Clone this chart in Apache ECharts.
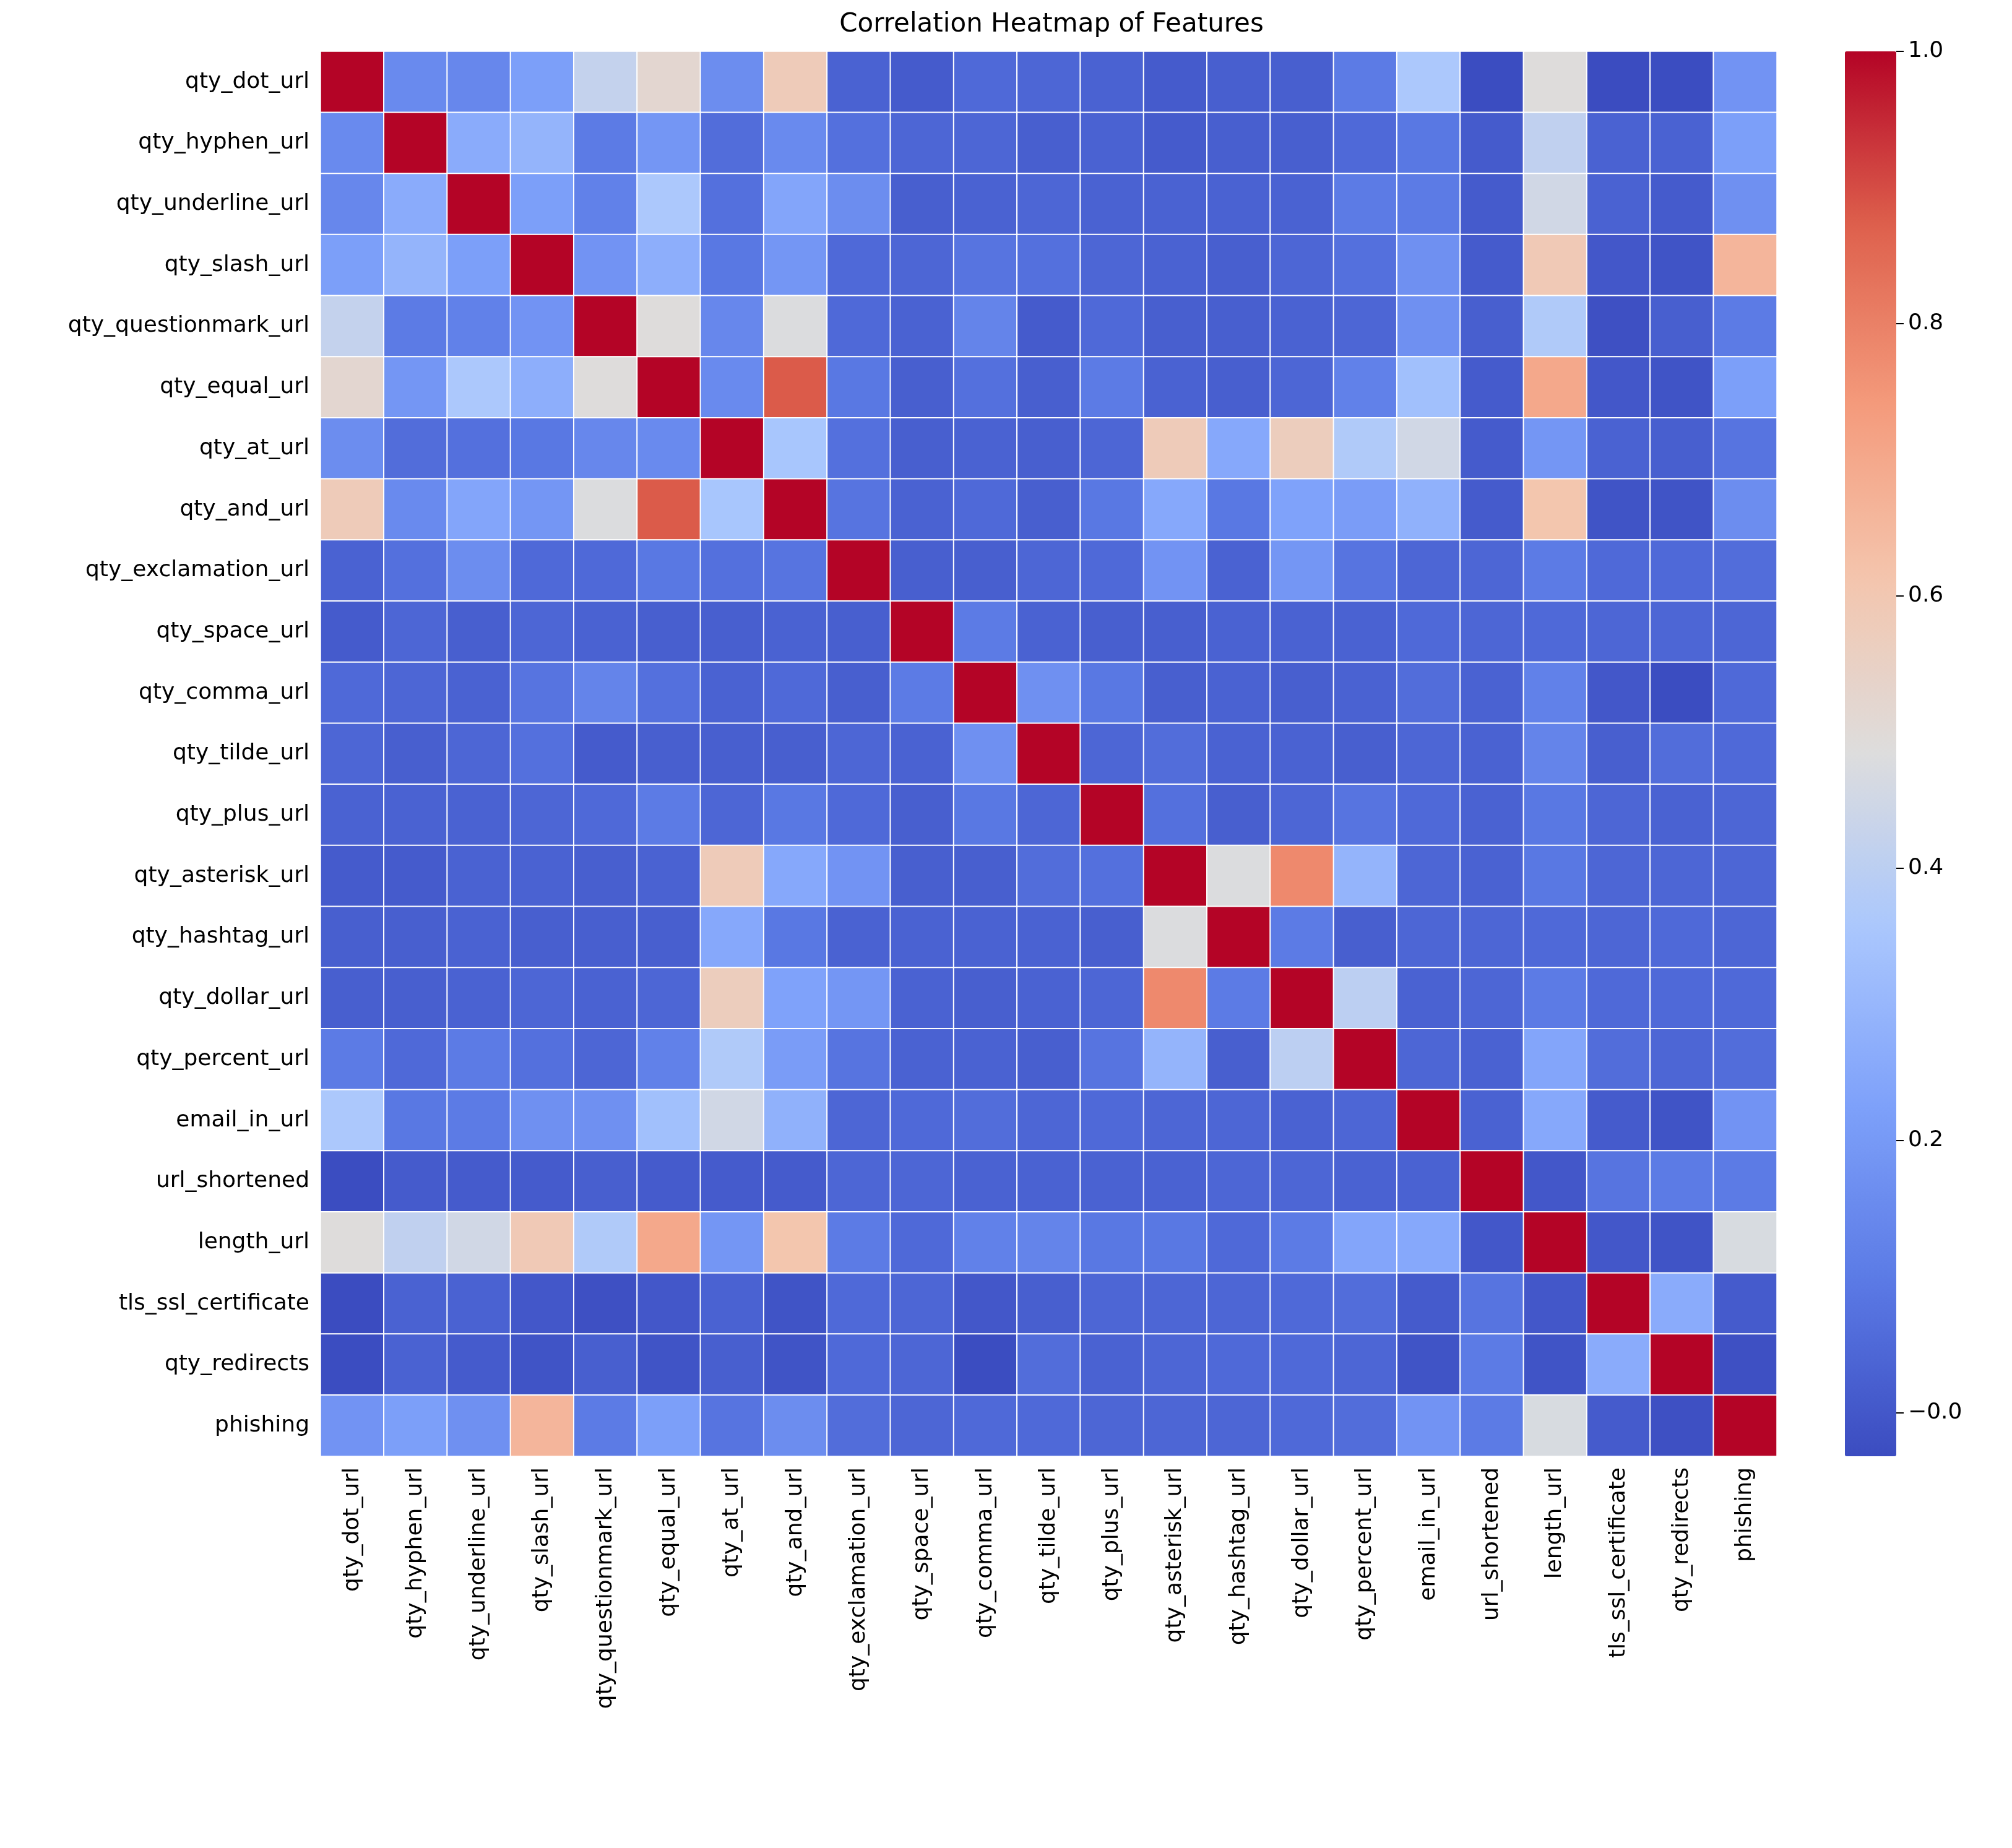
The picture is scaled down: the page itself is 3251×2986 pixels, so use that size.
<!DOCTYPE html>
<html>
<head>
<meta charset="utf-8">
<script src="https://cdn.jsdelivr.net/npm/echarts@6/dist/echarts.min.js"></script>
<style>html,body{margin:0;background:#fff}#chart{width:3251px;height:2986px}</style>
</head>
<body>
<div id="chart"></div>
<script>
const features = ["qty_dot_url", "qty_hyphen_url", "qty_underline_url", "qty_slash_url", "qty_questionmark_url",
  "qty_equal_url", "qty_at_url", "qty_and_url", "qty_exclamation_url", "qty_space_url", "qty_comma_url",
  "qty_tilde_url", "qty_plus_url", "qty_asterisk_url", "qty_hashtag_url", "qty_dollar_url", "qty_percent_url",
  "email_in_url", "url_shortened", "length_url", "tls_ssl_certificate", "qty_redirects", "phishing"];

// upper triangle of the correlation matrix, row i starts at column i
const upper = [
  [1, 0.15, 0.14, 0.22, 0.42, 0.52, 0.16, 0.58, 0.03, 0.01, 0.05, 0.04, 0.03, 0.01, 0.02, 0.02, 0.10, 0.36, -0.03, 0.49, -0.04, -0.03, 0.18],
  [1, 0.26, 0.29, 0.10, 0.19, 0.06, 0.15, 0.07, 0.04, 0.04, 0.02, 0.03, 0.01, 0.02, 0.02, 0.05, 0.09, 0.01, 0.41, 0.03, 0.03, 0.22],
  [1, 0.22, 0.12, 0.36, 0.07, 0.24, 0.16, 0.02, 0.03, 0.04, 0.03, 0.03, 0.03, 0.03, 0.10, 0.10, 0.01, 0.45, 0.03, 0.01, 0.17],
  [1, 0.18, 0.27, 0.09, 0.19, 0.05, 0.04, 0.08, 0.07, 0.04, 0.03, 0.02, 0.04, 0.07, 0.17, 0.01, 0.59, 0.00, -0.01, 0.66],
  [1, 0.49, 0.14, 0.48, 0.05, 0.03, 0.13, 0.01, 0.05, 0.02, 0.02, 0.03, 0.04, 0.17, 0.02, 0.37, -0.02, 0.02, 0.10],
  [1, 0.15, 0.88, 0.09, 0.02, 0.07, 0.02, 0.10, 0.03, 0.02, 0.04, 0.12, 0.33, 0.01, 0.70, 0.00, -0.01, 0.22],
  [1, 0.35, 0.07, 0.02, 0.03, 0.02, 0.04, 0.58, 0.25, 0.57, 0.37, 0.45, 0.01, 0.19, 0.03, 0.02, 0.08],
  [1, 0.08, 0.03, 0.05, 0.02, 0.09, 0.25, 0.09, 0.23, 0.21, 0.28, 0.01, 0.61, -0.01, -0.01, 0.16],
  [1, 0.02, 0.02, 0.04, 0.05, 0.18, 0.03, 0.19, 0.08, 0.04, 0.04, 0.10, 0.05, 0.05, 0.06],
  [1, 0.10, 0.03, 0.02, 0.02, 0.03, 0.03, 0.03, 0.05, 0.04, 0.05, 0.04, 0.04, 0.04],
  [1, 0.17, 0.09, 0.02, 0.03, 0.02, 0.03, 0.06, 0.03, 0.12, 0.00, -0.03, 0.05],
  [1, 0.04, 0.06, 0.03, 0.03, 0.02, 0.04, 0.03, 0.13, 0.02, 0.06, 0.05],
  [1, 0.07, 0.02, 0.04, 0.08, 0.05, 0.03, 0.09, 0.04, 0.03, 0.04],
  [1, 0.48, 0.78, 0.29, 0.04, 0.03, 0.09, 0.04, 0.04, 0.04],
  [1, 0.10, 0.02, 0.04, 0.04, 0.05, 0.04, 0.05, 0.04],
  [1, 0.40, 0.03, 0.04, 0.10, 0.05, 0.05, 0.05],
  [1, 0.04, 0.03, 0.24, 0.06, 0.04, 0.06],
  [1, 0.03, 0.25, 0.01, -0.01, 0.18],
  [1, 0.00, 0.08, 0.10, 0.10],
  [1, 0.00, -0.01, 0.47],
  [1, 0.26, 0.01],
  [1, -0.02],
  [1]
];
const colorTicks = [0, 0.2, 0.4, 0.6, 0.8, 1.0];
const vMin = -0.032, vMax = 1;

const cells = [];
upper.forEach((row, i) => row.forEach((v, k) => {
  const j = i + k;
  cells.push([j, i, v]);
  if (j !== i) cells.push([i, j, v]);
}));

const font = "DejaVu Sans";
const chart = echarts.init(document.getElementById("chart"));
chart.setOption({
  textStyle: { fontFamily: font },
  title: { text: "Correlation Heatmap of Features", left: 1694, top: 14, textAlign: "center",
    textStyle: { fontSize: 42, fontWeight: "normal", color: "#000", fontFamily: font } },
  grid: [
    { left: 518, right: 380, top: 83, height: 2270 },
    { left: 3064, width: 1, top: 83, height: 2270 }
  ],
  xAxis: [
    { type: "category", data: features, gridIndex: 0, position: "bottom",
      axisLine: { show: false }, axisTick: { length: 12, lineStyle: { color: "#000", width: 2 }, alignWithLabel: true },
      axisLabel: { rotate: 90, fontSize: 36, color: "#000", margin: 18, interval: 0 } },
    { type: "value", gridIndex: 1, show: false, min: 0, max: 1 }
  ],
  yAxis: [
    { type: "category", data: features, gridIndex: 0, inverse: true,
      axisLine: { show: false }, axisTick: { length: 12, lineStyle: { color: "#000", width: 2 }, alignWithLabel: true },
      axisLabel: { fontSize: 36, color: "#000", margin: 18, interval: 0 } },
    { type: "value", gridIndex: 1, position: "right", min: vMin, max: vMax,
      splitLine: { show: false }, axisLine: { show: false },
      axisTick: { show: true, length: 12, lineStyle: { color: "#000", width: 2 }, customValues: colorTicks },
      axisLabel: { fontSize: 36, color: "#000", margin: 18, customValues: colorTicks,
        formatter: (v) => (Math.abs(v) < 1e-9 ? "\u22120.0" : v.toFixed(1)) } }
  ],
  visualMap: {
    type: "continuous", min: vMin, max: vMax, seriesIndex: 0, calculable: false, padding: 0,
    left: 2981, top: 83, itemWidth: 83, itemHeight: 2270, text: ["", ""], showLabel: false,
    inRange: { color: ["#3b4cc0", "#5b7ae5", "#7ea1fa", "#aac7fd", "#dddddd", "#f4c5ad", "#f49a7b", "#de614d", "#b40426"] }
  },
  series: [{
    type: "heatmap", xAxisIndex: 0, yAxisIndex: 0, data: cells,
    itemStyle: { borderColor: "#fff", borderWidth: 2 }
  }]
});
</script>
</body>
</html>
